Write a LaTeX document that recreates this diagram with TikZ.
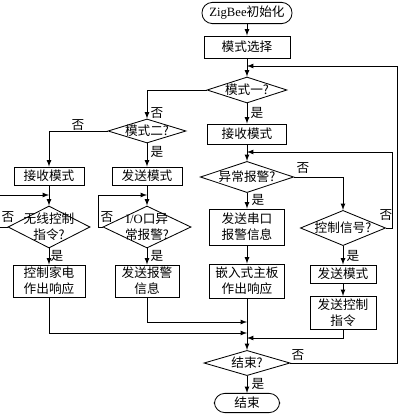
\documentclass[tikz,border=0pt]{standalone}
\usepackage{fontspec}
\setmainfont{Liberation Serif}
\newfontfamily\cjk{Noto Sans CJK SC}
\usetikzlibrary{shapes.geometric}

\begin{document}
\begin{tikzpicture}[x=0.025cm,y=-0.025cm,>=latex,line width=0.6pt,
every node/.style={font=\cjk\fontsize{9}{11.5}\selectfont},
term/.style={draw,rectangle,rounded corners=2.6mm,inner sep=0pt},
proc/.style={draw,rectangle,inner sep=0pt,align=center},
dec/.style={draw,diamond,inner sep=0pt},
lbl/.style={inner sep=0pt}]
\useasboundingbox (0,0) rectangle (400,414);
\node[term,minimum width=2.25cm,minimum height=0.53cm] (start) at (247,13) {\textrm{ZigBee}初始化};
\node[proc,minimum width=2.15cm,minimum height=0.55cm] (sel) at (247,47) {模式选择};
\node[dec,minimum width=2cm,minimum height=0.65cm,label=center:模式一?] (d1) at (247,90) {};
%-------------
\node[dec,minimum width=1.95cm,minimum height=0.6cm,label=center:模式二?] (d2) at (147,131) {};
\node[proc,minimum width=1.75cm,minimum height=0.45cm] (recv1) at (49,176) {接收模式};
\node[proc,minimum width=1.75cm,minimum height=0.45cm] (send1) at (147,176) {发送模式};
\node[dec,minimum width=2.05cm,minimum height=1.05cm,label={[align=center]center:{无线控制\\指令?}}] (d3) at (49,227) {};
\node[dec,minimum width=2.2cm,minimum height=1.05cm,label={[align=center]center:{\textrm{I/O}口异\\常报警?}}] (d4) at (147,227) {};
\node[proc,minimum width=1.8cm,minimum height=0.8cm] (ctrl) at (49,281) {控制家电\\作出响应};
\node[proc,minimum width=1.6cm,minimum height=0.8cm] (sendal) at (147,281) {发送报警\\信息};
%-------------
\node[proc,minimum width=1.98cm,minimum height=0.5cm] (recv2) at (247,134) {接收模式};
\node[dec,minimum width=2.33cm,minimum height=0.78cm,label=center:异常报警?] (d5) at (247,177) {};
\node[proc,minimum width=1.88cm,minimum height=0.9cm] (alarm) at (247,227) {发送串口\\报警信息};
\node[proc,minimum width=1.88cm,minimum height=0.85cm] (board) at (247,281) {嵌入式主板\\作出响应};
%-------------
\node[dec,minimum width=2.13cm,minimum height=0.88cm,label=center:控制信号?] (d6) at (343,228) {};
\node[proc,minimum width=1.65cm,minimum height=0.45cm] (send2) at (343,274) {发送模式};
\node[proc,minimum width=1.65cm,minimum height=0.83cm] (sendctl) at (343,313) {发送控制\\指令};
%-------------
\node[dec,minimum width=2.15cm,minimum height=0.63cm,label=center:结束?] (d7) at (247,363) {};
\node[term,minimum width=1.63cm,minimum height=0.48cm] (stop) at (247,403) {结束};
%------------
\node[lbl] (n1) at (157,113) {否};
\node[lbl] (y1) at (257,113) {是};
\node[lbl] (n2) at (78,125) {否};
\node[lbl] (y2) at (157,152) {是};
\node[lbl] (n3) at (8,217) {否};
\node[lbl] (n4) at (107,217) {否};
\node[lbl] (y3) at (57,256) {是};
\node[lbl] (y4) at (157,256) {是};
\node[lbl] (n5) at (303,168) {否};
\node[lbl] (y5) at (258,200) {是};
\node[lbl] (n6) at (386,215) {否};
\node[lbl] (y6) at (353,256) {是};
\node[lbl] (n7) at (298,355) {否};
\node[lbl] (y7) at (258,384) {是};
%------------
\coordinate (j1) at (49,195);
\coordinate (j2) at (147,195);
\coordinate (j3) at (247,152);
\coordinate (j4) at (247,66);
\coordinate (rr) at (397,66);
\coordinate (m1) at (247,322);
\coordinate (m2) at (247,333);
\coordinate (m3) at (247,338);
\foreach \from/\to in {start/sel,sel/d1,d1/recv2,recv2/d5,d5/alarm,alarm/board,board/d7,d7/stop,
d2/send1,recv1/d3,send1/d4,d3/ctrl,d4/sendal,d6/send2,send2/sendctl}
\draw[->] (\from) -- (\to);
\draw[->] (d1.west) -| (d2.north);
\draw[->] (d2.west) -| (recv1.north);
\draw[->] (d5.east) -| (d6.north);
\draw[->] (d3.west) -- ++(-8,0) |- (j1);
\draw[->] (d4.west) -- ++(-4,0) |- (j2);
\draw[->] (d6.east) -- ++(6,0) |- (j3);
\draw[->] (d7.east) -| (rr) -- (j4);
\draw[->] (ctrl.south) |- (m2);
\draw[->] (sendal.south) |- (m1);
\draw[->] (sendctl.south) |- (m3);
\end{tikzpicture}
\end{document}
